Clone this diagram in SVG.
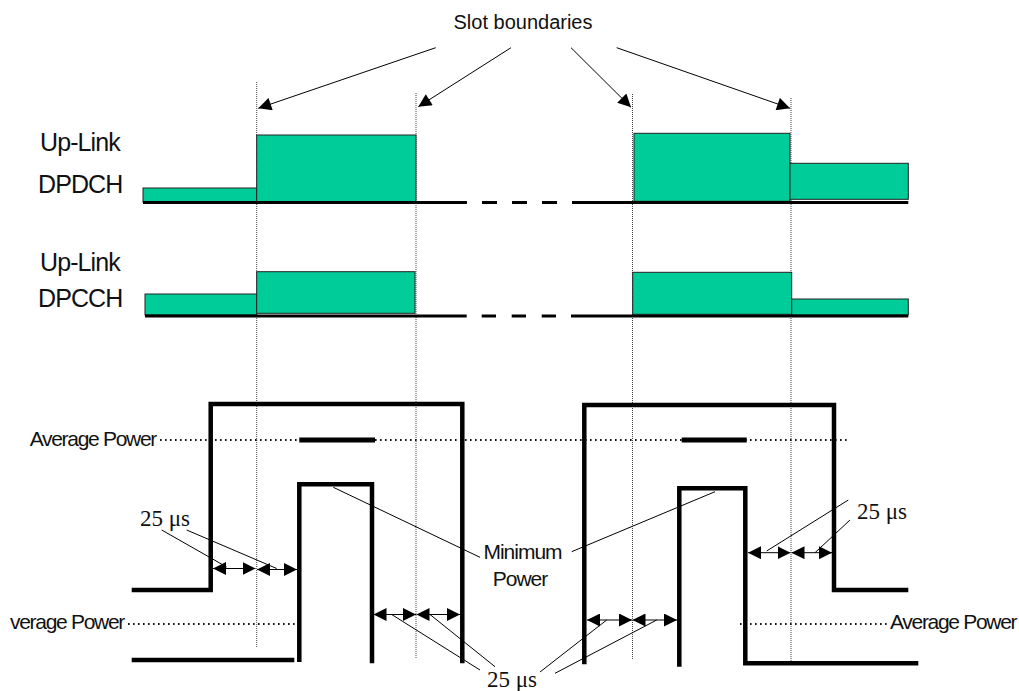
<svg xmlns="http://www.w3.org/2000/svg" width="1019" height="691" viewBox="0 0 1019 691">
<style>
.sans{font-family:"Liberation Sans",Arial,sans-serif;fill:#111}
.serif{font-family:"Liberation Serif","Times New Roman",serif;fill:#111}
.vdot{stroke:#444;stroke-width:1;stroke-dasharray:1 1;fill:none}
.hdot{stroke:#111;stroke-width:2;stroke-dasharray:1.6 3.4;fill:none}
.bar{fill:#00cc99;stroke:#222;stroke-width:1}
.base{stroke:#000;stroke-width:3;fill:none}
.thick{stroke:#000;stroke-width:4.5;fill:none;stroke-linejoin:miter}
.thin{stroke:#000;stroke-width:1;fill:none}
</style>
<defs>
<marker id="ah" viewBox="0 0 10 10" refX="10" refY="5" markerWidth="15" markerHeight="13" markerUnits="userSpaceOnUse" orient="auto">
<path d="M0,0 L10,5 L0,10 z" fill="#000"/>
</marker>
<marker id="dh" viewBox="0 0 10 10" refX="10" refY="5" markerWidth="13" markerHeight="13" markerUnits="userSpaceOnUse" orient="auto-start-reverse">
<path d="M0,0 L10,5 L0,10 z" fill="#000"/>
</marker>
</defs>

<g id="slot-lines">
<line class="vdot" x1="256.7" y1="82" x2="256.7" y2="647"/>
<line class="vdot" x1="416" y1="93" x2="416" y2="658"/>
<line class="vdot" x1="632.5" y1="94" x2="632.5" y2="660"/>
<line class="vdot" x1="791" y1="98" x2="791" y2="662"/>
</g>

<g id="title">
<text class="sans" x="523" y="29" font-size="20" text-anchor="middle">Slot boundaries</text>
</g>

<g id="dpdch">
<text class="sans" x="40" y="151" font-size="25" letter-spacing="-0.9">Up-Link</text>
<text class="sans" x="38" y="193" font-size="25" letter-spacing="-0.9">DPDCH</text>
<rect class="bar" x="143" y="188" width="113.7" height="14"/>
<rect class="bar" x="256.7" y="135" width="159.3" height="67"/>
<rect class="bar" x="634" y="133.3" width="156" height="68"/>
<rect class="bar" x="790" y="163.3" width="118.3" height="36"/>
<line class="base" x1="143" y1="202.5" x2="467" y2="202.5"/>
<line class="base" x1="482" y1="202.5" x2="497" y2="202.5"/>
<line class="base" x1="512" y1="202.5" x2="527" y2="202.5"/>
<line class="base" x1="542" y1="202.5" x2="557" y2="202.5"/>
<line class="base" x1="572" y1="202.5" x2="908.3" y2="202.5"/>
</g>

<g id="dpcch">
<text class="sans" x="40" y="271" font-size="25" letter-spacing="-0.9">Up-Link</text>
<text class="sans" x="38" y="307" font-size="25" letter-spacing="-0.9">DPCCH</text>
<rect class="bar" x="145" y="294" width="111.7" height="21"/>
<rect class="bar" x="256.7" y="271.7" width="158.3" height="41.6"/>
<rect class="bar" x="632.7" y="272.3" width="159" height="42"/>
<rect class="bar" x="791.7" y="299" width="116.6" height="16"/>
<line class="base" x1="145" y1="316" x2="466.7" y2="316"/>
<line class="base" x1="481.7" y1="316" x2="496" y2="316"/>
<line class="base" x1="511.7" y1="316" x2="526" y2="316"/>
<line class="base" x1="541.7" y1="316" x2="556" y2="316"/>
<line class="base" x1="571" y1="316" x2="908.3" y2="316"/>
</g>

<g id="avg-power-levels">
<text class="sans" x="156" y="446" font-size="21" letter-spacing="-1.3" text-anchor="end">Average Power</text>
<line class="hdot" x1="160" y1="440" x2="850" y2="440"/>
<text class="sans" x="10" y="629" font-size="21" letter-spacing="-1.3">verage Power</text>
<line class="hdot" x1="128" y1="624" x2="297" y2="624"/>
<text class="sans" x="890" y="629" font-size="21" letter-spacing="-1.3">Average Power</text>
<line class="hdot" x1="740" y1="624" x2="887" y2="624"/>
<line stroke="#000" stroke-width="5" x1="299.3" y1="440" x2="375" y2="440"/>
<line stroke="#000" stroke-width="5" x1="681.7" y1="440" x2="746.7" y2="440"/>
</g>

<g id="power-mask-left">
<polyline class="thick" points="131.7,590 210.7,590 210.7,404 462.3,404 462.3,663.3"/>
<line class="thick" x1="131.7" y1="660" x2="294.3" y2="660"/>
<polyline class="thick" points="299.3,662 299.3,484.3 372,484.3 372,663.3"/>
</g>

<g id="power-mask-right">
<polyline class="thick" points="584.3,664.3 584.3,405 834,405 834,590 908.3,590"/>
<polyline class="thick" points="679.3,666.7 679.3,488.3 745.3,488.3 745.3,663.3 918.3,663.3"/>
</g>

<g id="min-power-label">
<text class="sans" x="522.5" y="559" font-size="21" letter-spacing="-1" text-anchor="middle">Minimum</text>
<text class="sans" x="520" y="586" font-size="21" letter-spacing="-1" text-anchor="middle">Power</text>
</g>

<g id="us-labels">
<text class="serif" x="140" y="526" font-size="23">25 μs</text>
<text class="serif" x="857" y="519" font-size="23">25 μs</text>
<text class="serif" x="487" y="687" font-size="23">25 μs</text>
</g>

<g id="connectors">
<line class="thin" x1="435.7" y1="47.7" x2="258.3" y2="108.3" marker-end="url(#ah)"/>
<line class="thin" x1="511" y1="47.7" x2="418.3" y2="106.7" marker-end="url(#ah)"/>
<line class="thin" x1="571" y1="47.7" x2="631" y2="107.3" marker-end="url(#ah)"/>
<line class="thin" x1="616.7" y1="47.7" x2="790" y2="108.3" marker-end="url(#ah)"/>

<line class="thin" x1="213" y1="568.5" x2="255.5" y2="568.5" marker-start="url(#dh)" marker-end="url(#dh)"/>
<line class="thin" x1="257" y1="569.5" x2="297" y2="569.5" marker-start="url(#dh)" marker-end="url(#dh)"/>
<line class="thin" x1="373.5" y1="614.5" x2="416" y2="614.5" marker-start="url(#dh)" marker-end="url(#dh)"/>
<line class="thin" x1="416.5" y1="614.5" x2="460" y2="614.5" marker-start="url(#dh)" marker-end="url(#dh)"/>
<line class="thin" x1="587" y1="620" x2="632" y2="620" marker-start="url(#dh)" marker-end="url(#dh)"/>
<line class="thin" x1="632.5" y1="620" x2="677" y2="620" marker-start="url(#dh)" marker-end="url(#dh)"/>
<line class="thin" x1="748" y1="552.7" x2="790.5" y2="552.7" marker-start="url(#dh)" marker-end="url(#dh)"/>
<line class="thin" x1="791.5" y1="552.7" x2="832" y2="552.7" marker-start="url(#dh)" marker-end="url(#dh)"/>

<line class="thin" x1="161.7" y1="530" x2="226.7" y2="567"/>
<line class="thin" x1="186.7" y1="530" x2="276.7" y2="568.5"/>
<line class="thin" x1="848.3" y1="500" x2="766.7" y2="551"/>
<line class="thin" x1="850" y1="520" x2="815" y2="552.7"/>
<line class="thin" x1="480" y1="670" x2="391.7" y2="614.5"/>
<line class="thin" x1="495" y1="666.7" x2="430" y2="614.5"/>
<line class="thin" x1="540" y1="672" x2="606.7" y2="620"/>
<line class="thin" x1="555" y1="673.3" x2="656.7" y2="620"/>

<line class="thin" x1="333.3" y1="487.3" x2="480" y2="557.3"/>
<line class="thin" x1="571.7" y1="551.7" x2="715" y2="491.7"/>
</g>
</svg>
